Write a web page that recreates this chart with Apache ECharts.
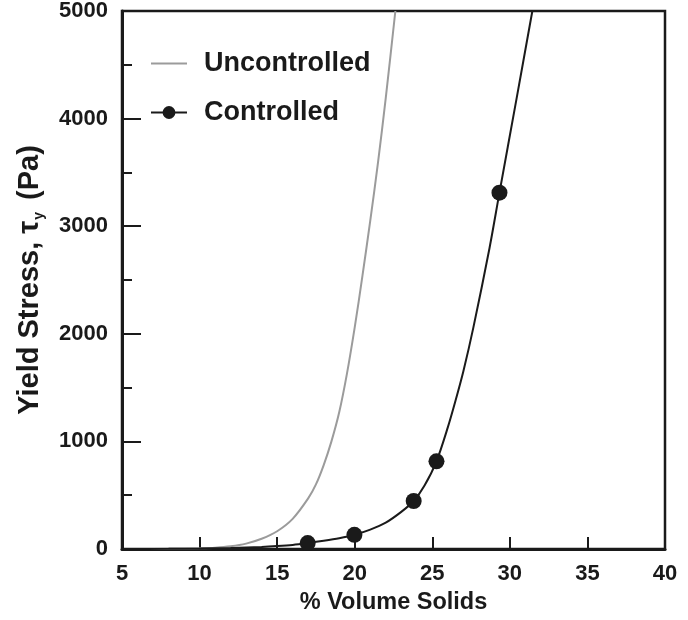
<!DOCTYPE html>
<html>
<head>
<meta charset="utf-8">
<script src="https://cdn.jsdelivr.net/npm/echarts@6/dist/echarts.min.js"></script>
<style>html,body{margin:0;padding:0;background:#fff}#c{width:688px;height:620px}</style>
</head>
<body>
<div id="c"></div>
<script>
// Uncontrolled curve (% volume solids, yield stress Pa)
const uncontrolledX = [5, 7, 9, 10, 11, 12, 13, 14, 15, 16, 17, 17.5, 18, 18.5, 19, 19.5, 20, 20.5, 21, 21.5, 22, 22.62];
const uncontrolledY = [0, 1, 3, 6, 12, 25, 50, 95, 165, 280, 470, 600, 780, 1000, 1270, 1630, 2060, 2540, 3050, 3590, 4190, 5000];
// Controlled fitted curve
const controlledCurveX = [5, 8, 10, 12, 14, 15, 16, 16.97, 18, 19, 19.98, 21, 22, 23, 23.8, 24.5, 25.27, 26, 26.5, 27, 27.65, 28.69, 29.33, 30.4, 31.45];
const controlledCurveY = [0, 2, 5, 10, 19, 27, 38, 55, 76, 100, 132, 180, 245, 345, 446, 590, 815, 1130, 1380, 1650, 2060, 2798, 3312, 4160, 5000];
// Controlled measured points
const controlledPtsX = [16.97, 19.98, 23.8, 25.27, 29.33];
const controlledPtsY = [55, 132, 446, 815, 3312];
const xTicks = [5, 10, 15, 20, 25, 30, 35, 40];
const yTicks = [0, 1000, 2000, 3000, 4000, 5000];

const zip = (a, b) => a.map((v, i) => [v, b[i]]);
const FONT = '"Liberation Sans", Arial, Helvetica, sans-serif';
const INK = '#1a1a1a';

const chart = echarts.init(document.getElementById('c'), null, {renderer: 'canvas'});
chart.setOption({
  animation: false,
  backgroundColor: '#fff',
  grid: {left: 122, right: 23, top: 8, bottom: 70, show: true, borderColor: INK, borderWidth: 2.5, containLabel: false},
  legend: {
    orient: 'vertical', left: 145, top: 45, itemWidth: 36, itemHeight: 16, itemGap: 22,
    textStyle: {fontFamily: FONT, fontSize: 27, fontWeight: 'bold', color: INK, padding: [0, 0, 0, 12]},
    data: [
      {name: 'Uncontrolled', itemStyle: {opacity: 0}},
      {name: 'Controlled'}
    ]
  },
  xAxis: {
    type: 'value', min: xTicks[0], max: xTicks[xTicks.length - 1], interval: 5,
    name: '% Volume Solids', nameLocation: 'middle', nameGap: 42,
    nameTextStyle: {fontFamily: FONT, fontSize: 23.5, fontWeight: 'bold', color: INK},
    axisLine: {lineStyle: {color: INK, width: 3}},
    axisTick: {inside: true, length: 12, lineStyle: {color: INK, width: 2}},
    axisLabel: {fontFamily: FONT, fontSize: 22, fontWeight: 'bold', color: INK, margin: 14},
    splitLine: {show: false}
  },
  yAxis: {
    type: 'value', min: yTicks[0], max: yTicks[yTicks.length - 1], interval: 1000,
    name: '{a|Yield Stress, τ}{s|y}{a| (Pa)}', nameLocation: 'middle', nameGap: 76,
    nameTextStyle: {
      rich: {
        a: {fontFamily: FONT, fontSize: 29, fontWeight: 'bold', color: INK, lineHeight: 32},
        s: {fontFamily: FONT, fontSize: 14, fontWeight: 'bold', color: INK, lineHeight: 32, verticalAlign: 'bottom', padding: [0, 4, 0, 1]}
      }
    },
    axisLine: {lineStyle: {color: INK, width: 3}},
    axisTick: {inside: true, length: 19, lineStyle: {color: INK, width: 2}},
    minorTick: {show: true, splitNumber: 2, length: 10, lineStyle: {color: INK, width: 2}},
    axisLabel: {fontFamily: FONT, fontSize: 22, fontWeight: 'bold', color: INK, margin: 14, formatter: v => String(v)},
    splitLine: {show: false}, minorSplitLine: {show: false}
  },
  series: [
    {
      name: 'Uncontrolled', type: 'line', data: zip(uncontrolledX, uncontrolledY),
      smooth: 0.3, symbol: 'none', showSymbol: false,
      lineStyle: {color: '#9b9b9b', width: 2}, itemStyle: {color: '#9b9b9b'}, z: 2
    },
    {
      name: 'Controlled', type: 'line', data: zip(controlledCurveX, controlledCurveY),
      smooth: 0.3, symbol: 'circle', showSymbol: false,
      lineStyle: {color: INK, width: 2}, itemStyle: {color: INK}, z: 3
    },
    {
      name: 'Controlled points', type: 'scatter', data: zip(controlledPtsX, controlledPtsY),
      symbol: 'circle', symbolSize: 16, itemStyle: {color: INK, opacity: 1}, z: 4
    }
  ]
});
</script>
</body>
</html>
